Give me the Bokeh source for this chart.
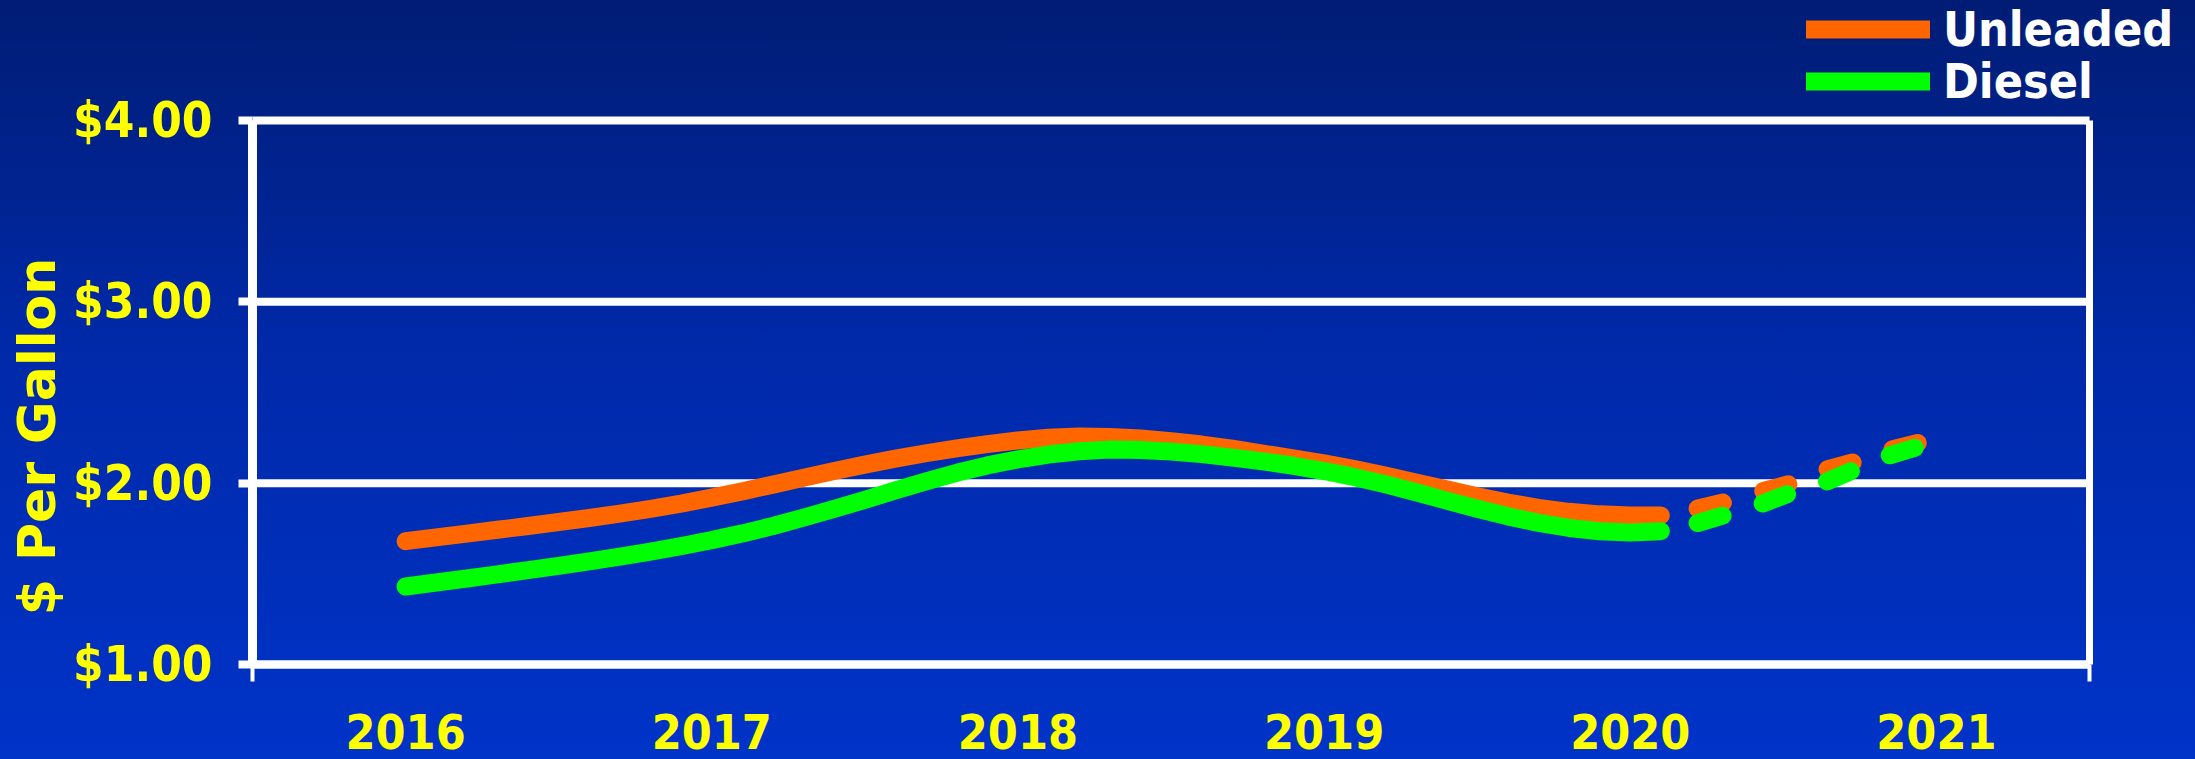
import math
from bokeh.plotting import figure
from bokeh.models import (Range1d, FixedTicker, NumeralTickFormatter, Legend, LegendItem, Label,
                          LinearAxis)
from bokeh.embed import file_html
from bokeh.resources import INLINE

# ---- data ----
years = [2016, 2017, 2018, 2019, 2020, 2021]
year_labels = ["2016", "2017", "2018", "2019", "2020", "2021"]
y_ticks = [1, 2, 3, 4]

hist_x = [2016.0, 2016.1, 2016.2, 2016.3, 2016.4, 2016.5, 2016.6, 2016.7, 2016.8, 2016.9,
          2017.0, 2017.1, 2017.2, 2017.3, 2017.4, 2017.5, 2017.6, 2017.7, 2017.8, 2017.9,
          2018.0, 2018.1, 2018.2, 2018.3, 2018.4, 2018.5, 2018.6, 2018.7, 2018.8, 2018.9,
          2019.0, 2019.1, 2019.2, 2019.3, 2019.4, 2019.5, 2019.6, 2019.7, 2019.8, 2019.9,
          2020.0, 2020.1]
unleaded = [1.680, 1.701, 1.722, 1.743, 1.764, 1.786, 1.808, 1.832, 1.858, 1.887,
            1.920, 1.955, 1.992, 2.030, 2.067, 2.102, 2.135, 2.165, 2.192, 2.215,
            2.235, 2.250, 2.257, 2.255, 2.246, 2.232, 2.213, 2.190, 2.163, 2.137,
            2.109, 2.077, 2.042, 2.004, 1.966, 1.928, 1.893, 1.864, 1.842, 1.828,
            1.822, 1.822]
diesel = [1.430, 1.452, 1.474, 1.497, 1.520, 1.544, 1.569, 1.595, 1.623, 1.653,
          1.686, 1.723, 1.764, 1.810, 1.858, 1.908, 1.960, 2.010, 2.057, 2.098,
          2.131, 2.158, 2.176, 2.185, 2.183, 2.174, 2.160, 2.141, 2.120, 2.096,
          2.067, 2.033, 1.994, 1.950, 1.904, 1.859, 1.817, 1.781, 1.753, 1.735,
          1.728, 1.735]

fc_x = [2020.22, 2020.32, 2020.42, 2020.53, 2020.63, 2020.74, 2020.84, 2020.96]
unleaded_fc = [1.86, 1.90, 1.95, 2.00, 2.07, 2.12, 2.18, 2.23]
diesel_fc = [1.78, 1.83, 1.88, 1.95, 2.00, 2.08, 2.15, 2.21]

ORANGE = "#FF6600"
GREEN = "#00FF00"
YELLOW = "#FFFF00"
COND = "DejaVu Sans Condensed, DejaVu Sans"

W, H = 2195, 759
# plot box (canvas pixels) used to place the data ranges
BOX_L, BOX_R, BOX_T, BOX_B = 252, 2089, 120, 664
X0, X1 = 2015.5, 2021.5
Y0, Y1 = 1.0, 4.0
sx = (BOX_R - BOX_L) / (X1 - X0)
sy = (BOX_B - BOX_T) / (Y1 - Y0)
x_range = Range1d(X0 - BOX_L / sx, X1 + (W - BOX_R) / sx)
y_range = Range1d(Y0 - (H - BOX_B) / sy, Y1 + BOX_T / sy)

p = figure(output_backend="svg", toolbar_location=None, width=W, height=H,
           min_border=0, min_border_left=0, min_border_right=0, min_border_top=0, min_border_bottom=0,
           x_range=x_range, y_range=y_range, x_axis_location=None, y_axis_location=None)
p.styles = {"background-image": "linear-gradient(to bottom, #001c74 0%, #0029a8 45%, #0033c8 100%)"}
p.background_fill_alpha = 0
p.border_fill_alpha = 0
p.outline_line_color = None
p.grid.visible = False

# horizontal grid lines across the plot box only
p.segment(x0=[X0] * len(y_ticks), x1=[X1] * len(y_ticks), y0=y_ticks, y1=y_ticks,
          line_color="white", line_width=8)

# left value axis
yax = LinearAxis(fixed_location=X0, bounds=(Y0, Y1), ticker=FixedTicker(ticks=y_ticks),
                 formatter=NumeralTickFormatter(format="$0.00"))
yax.axis_line_color = "white"
yax.axis_line_width = 9
yax.major_tick_line_color = "white"
yax.major_tick_line_width = 8
yax.major_tick_out = 14
yax.major_tick_in = 0
yax.minor_tick_line_alpha = 0
yax.major_label_text_color = YELLOW
yax.major_label_text_font = COND
yax.major_label_text_font_style = "bold"
yax.major_label_text_font_size = "49px"
yax.major_label_standoff = 26
p.add_layout(yax, "left")

# right border of the plot box
rax = LinearAxis(fixed_location=X1, bounds=(Y0, Y1), ticker=FixedTicker(ticks=[]))
rax.axis_line_color = "white"
rax.axis_line_width = 7
rax.major_tick_line_alpha = 0
rax.minor_tick_line_alpha = 0
rax.major_label_text_alpha = 0
p.add_layout(rax, "right")

# category (year) axis
xax = LinearAxis(fixed_location=Y0, bounds=(X0, X1),
                 ticker=FixedTicker(ticks=years, minor_ticks=[X0, X1]))
xax.major_label_overrides = {y: l for y, l in zip(years, year_labels)}
xax.axis_line_color = "white"
xax.axis_line_width = 8
xax.major_tick_line_alpha = 0
xax.major_tick_out = 0
xax.major_tick_in = 0
xax.minor_tick_line_color = "white"
xax.minor_tick_line_width = 4
xax.minor_tick_out = 17
xax.minor_tick_in = 0
xax.major_label_text_color = YELLOW
xax.major_label_text_font = COND
xax.major_label_text_font_style = "bold"
xax.major_label_text_font_size = "48px"
xax.major_label_standoff = 32
p.add_layout(xax, "below")

# lines
lw = 18
r_u = p.line(hist_x, unleaded, line_color=ORANGE, line_width=lw, line_cap="round", line_join="round")
r_uf = p.line(fc_x, unleaded_fc, line_color=ORANGE, line_width=lw, line_cap="round", line_join="round",
              line_dash="26 42")
r_d = p.line(hist_x, diesel, line_color=GREEN, line_width=lw, line_cap="round", line_join="round")
r_df = p.line(fc_x, diesel_fc, line_color=GREEN, line_width=lw, line_cap="round", line_join="round",
              line_dash="26 42")

legend_style = dict(orientation="vertical", background_fill_alpha=0, border_line_alpha=0,
                    padding=0, margin=0, spacing=0, glyph_width=124, glyph_height=56,
                    label_height=56, label_standoff=13, label_text_color="white",
                    label_text_font_style="bold", label_text_font_size="48px",
                    label_text_font=COND, label_text_baseline="middle")
leg_u = Legend(items=[LegendItem(label="Unleaded", renderers=[r_u])], location=(1806, 702), **legend_style)
leg_d = Legend(items=[LegendItem(label="Diesel", renderers=[r_d])], location=(1806, 650), **legend_style)
p.add_layout(leg_u)
p.add_layout(leg_d)

ylab = Label(x=36, y=323, x_units="screen", y_units="screen", text="$ Per Gallon",
             angle=math.pi / 2, text_align="center", text_baseline="middle",
             text_color=YELLOW, text_font="DejaVu Sans", text_font_style="bold",
             text_font_size="52px")
p.add_layout(ylab)

open("out.html", "w").write(file_html(p, INLINE))
